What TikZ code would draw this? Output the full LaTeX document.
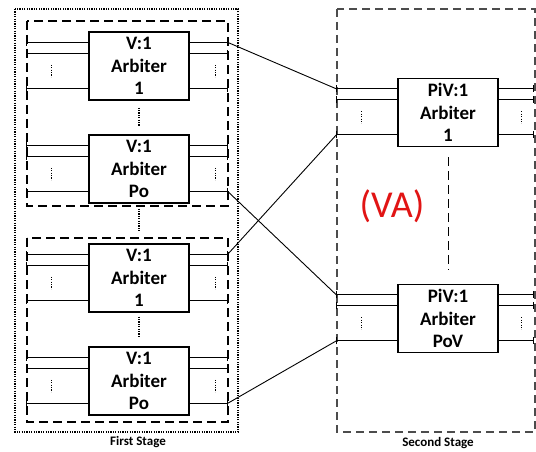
\documentclass[tikz,border=0pt]{standalone}
\usepackage{fontspec}
\setmainfont{Carlito}
\usetikzlibrary{arrows.meta,calc}
\definecolor{vared}{RGB}{225,20,20}
\tikzset{arb/.style={draw,line width=1.3pt,minimum width=100pt,minimum height=68pt,inner sep=0pt,
   align=center,font=\bfseries\fontsize{19}{22.5}\selectfont},
 wire/.style={line width=.9pt},
 pinl/.style={wire,{Bar[width=7pt]}-},pinr/.style={wire,-{Bar[width=7pt]}},
 vdots/.style={line width=1.1pt,dash pattern=on 1.1pt off 1.3pt},
 grp/.style={line width=1.4pt,dash pattern=on 9pt off 5pt},
 stage/.style={line width=1.3pt,draw=black!70,dash pattern=on 8pt off 5pt},
 link/.style={line width=.9pt},
 txt/.style={font=\bfseries\fontsize{13}{14}\selectfont}}
\begin{document}
\begin{tikzpicture}[x=1pt,y=-1pt]
\useasboundingbox (0,0) rectangle (536,452);
% stages and groups
\draw[line width=1.2pt,dash pattern=on 1.2pt off 1.2pt] (15,9) rectangle (238,432);
\draw[grp] (27,21) rectangle (228,206);
\draw[grp] (27,238) rectangle (228,422);
\draw[stage] (337,9) rectangle (535,432);
% arbiters
\node[arb] (a1) at (139,66){V:1\\Arbiter\\1};
\node[arb] (a2) at (139,169){V:1\\Arbiter\\Po};
\node[arb] (a3) at (139,278){V:1\\Arbiter\\1};
\node[arb] (a4) at (139,381){V:1\\Arbiter\\Po};
\node[arb] (b1) at (448,112.5){PiV:1\\Arbiter\\1};
\node[arb] (b2) at (448,318.5){PiV:1\\Arbiter\\PoV};
% input and output wires
\foreach \n/\dl/\dr in {a1/62/38,a2/62/38,a3/62/38,a4/62/38,b1/61/35,b2/61/35}{
 \foreach \k/\o in {1/11,2/22,3/57}{
  \coordinate (\n-l\k) at ([yshift=-\o pt]\n.north west);
  \coordinate (\n-r\k) at ([yshift=-\o pt]\n.north east);
  \coordinate (\n-L\k) at ([xshift=-\dl pt]\n-l\k);
  \coordinate (\n-R\k) at ([xshift=\dr pt]\n-r\k);
  \draw[pinl] (\n-L\k) -- (\n-l\k);
  \draw[pinr] (\n-r\k) -- (\n-R\k);
 }
 \coordinate (\n-ml) at ($(\n-L2)!.5!(\n-L3)+(25,0)$);
 \coordinate (\n-mr) at ($(\n-R2)!.5!(\n-R3)+(-12,0)$);
 \draw[vdots] ([yshift=6pt]\n-ml) -- ([yshift=-6pt]\n-ml);
 \draw[vdots] ([yshift=6pt]\n-mr) -- ([yshift=-6pt]\n-mr);
}
% dots between arbiters
\draw[vdots] ([yshift=-7pt]a1.south) -- ([yshift=8pt]a2.north);
\draw[vdots] ([yshift=-5pt]a2.south) -- ([yshift=11pt]a3.north);
\draw[vdots] ([yshift=-4pt]a3.south) -- ([yshift=9pt]a4.north);
\draw[line width=1pt,dash pattern=on 9pt off 5pt] ([yshift=-10pt]b1.south) -- ([yshift=14pt]b2.north);
% links between the stages
\draw[link] (a1-R1) -- (b1-L1);
\draw[link] (a2-R3) -- (b2-L1);
\draw[link] (a3-R1) -- (b1-L3);
\draw[link] (a4-R3) -- (b2-L3);
% labels
\node[font=\fontsize{38}{40}\selectfont,text=vared] (va) at (392,206){(VA)};
\node[txt] (fs) at (138,442){First Stage};
\node[txt] (ss) at (438,443){Second Stage};
\end{tikzpicture}
\end{document}
